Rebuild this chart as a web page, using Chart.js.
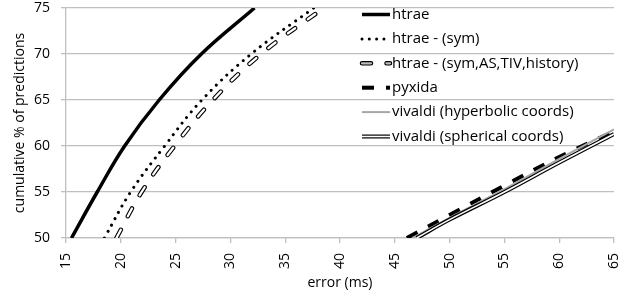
<!DOCTYPE html>
<html>
<head>
<meta charset="utf-8">
<script src="https://cdn.jsdelivr.net/npm/chart.js@4.4.1/dist/chart.umd.min.js"></script>
<style>
  html, body { margin: 0; padding: 0; background: #fff; }
  #wrap { width: 633px; height: 296px; }
</style>
</head>
<body>
<div id="wrap"><canvas id="myChart" width="633" height="296"></canvas></div>
<script>
// series names, in legend order
const seriesNames = [
    'htrae',
    'htrae - (sym)',
    'htrae - (sym,AS,TIV,history)',
    'pyxida',
    'vivaldi (hyperbolic coords)',
    'vivaldi (spherical coords)'
];

// error (ms) / cumulative %
const htraeErr = [15.5, 17.85, 20.35, 23.5, 27.35, 32.2];
const htraePct = [50, 55, 60, 65, 70, 75];
const symErr = [18.5, 20.9, 24.0, 27.4, 31.9, 37.6];
const symPct = [50, 55, 60, 65, 70, 75];
const historyErr = [19.6, 21.9, 24.9, 28.4, 32.8, 38.5];
const historyPct = [50, 55, 60, 65, 70, 75];
const pyxidaErr = [46.1, 50, 55, 60, 65];
const pyxidaPct = [50, 52.5, 55.7, 58.8, 61.6];
const hyperErr = [46.6, 50, 55, 60, 65];
const hyperPct = [50, 52.2, 55.3, 58.6, 61.8];
const sphereErr = [47.0, 50, 55, 60, 65];
const spherePct = [50, 52.0, 55.0, 58.2, 61.3];

const xTickValues = [15, 20, 25, 30, 35, 40, 45, 50, 55, 60, 65];
const yTickValues = [50, 55, 60, 65, 70, 75];

const FONT = 'Open Sans';

function toPoints(xs, ys) {
    return xs.map((x, i) => ({ x: x, y: ys[i] }));
}

function line(label, xs, ys, style) {
    return Object.assign({
        label: label,
        data: toPoints(xs, ys),
        borderColor: '#000',
        borderWidth: 2,
        pointRadius: 0,
        fill: false,
        tension: 0.4
    }, style);
}

const datasets = [
    line(seriesNames[0], htraeErr, htraePct, { borderWidth: 3.5 }),
    line(seriesNames[1], symErr, symPct, { borderWidth: 3, borderDash: [0.01, 7.3], borderCapStyle: 'round' }),
    line(seriesNames[2], historyErr, historyPct, { borderWidth: 4.5, borderDash: [9, 15.5], borderCapStyle: 'round' }),
    line('', historyErr, historyPct, { borderColor: '#fff', borderWidth: 2.3, borderDash: [9, 15.5], borderCapStyle: 'round', overlayOf: 2, innerLegend: '#bbb' }),
    line(seriesNames[3], pyxidaErr, pyxidaPct, { borderWidth: 4, borderDash: [12, 12] }),
    line(seriesNames[4], hyperErr, hyperPct, { borderColor: '#a6a6a6', borderWidth: 2 }),
    line(seriesNames[5], sphereErr, spherePct, { borderWidth: 4 }),
    line('', sphereErr, spherePct, { borderColor: '#fff', borderWidth: 1.6, overlayOf: 6 })
];
// draw in list order (later on top)
datasets.forEach((d, i) => { d.order = datasets.length - i; });

// legend drawn inside the plot area, no background
const insideLegend = {
    id: 'insideLegend',
    afterDraw(chart) {
        const ctx = chart.ctx;
        const x0 = 362, x1 = 390, textX = 392;
        let row = 0;
        ctx.save();
        chart.data.datasets.forEach((ds, i) => {
            if (ds.overlayOf !== undefined) return;
            const y = 14.5 + row * 24.4;
            const parts = [ds].concat(chart.data.datasets.filter(o => o.overlayOf === i));
            parts.forEach(p => {
                ctx.beginPath();
                ctx.strokeStyle = p.innerLegend || p.borderColor;
                ctx.lineWidth = p.borderWidth;
                ctx.setLineDash(p.borderDash || []);
                ctx.lineCap = p.borderCapStyle || 'butt';
                ctx.moveTo(x0, y);
                ctx.lineTo(x1, y);
                ctx.stroke();
            });
            ctx.setLineDash([]);
            ctx.fillStyle = '#000';
            ctx.font = '15px "' + FONT + '"';
            ctx.textBaseline = 'middle';
            ctx.textAlign = 'left';
            ctx.fillText(ds.label, textX, y);
            row++;
        });
        ctx.restore();
    }
};

const ctx = document.getElementById('myChart').getContext('2d');
const myChart = new Chart(ctx, {
    type: 'line',
    data: { datasets: datasets },
    options: {
        responsive: false,
        animation: false,
        devicePixelRatio: 1,
        layout: { padding: { left: 0, right: 19, top: 8, bottom: 0 } },
        scales: {
            x: {
                type: 'linear',
                min: 15,
                max: 65,
                afterBuildTicks: s => { s.ticks = xTickValues.map(v => ({ value: v })); },
                afterFit: s => { s.height = 58; s.paddingLeft = 0; s.paddingRight = 0; },
                ticks: {
                    minRotation: 90,
                    maxRotation: 90,
                    padding: 10,
                    color: '#000',
                    font: { family: FONT, size: 14 }
                },
                grid: { drawOnChartArea: false, drawTicks: true, tickLength: 5, color: '#bfbfbf', lineWidth: 1.3 },
                border: { display: true, color: '#bfbfbf', width: 1.3 },
                title: {
                    display: true,
                    text: 'error (ms)',
                    color: '#000',
                    font: { family: FONT, size: 14 },
                    padding: { top: 0, bottom: 5 }
                }
            },
            y: {
                min: 50,
                max: 75,
                afterBuildTicks: s => { s.ticks = yTickValues.map(v => ({ value: v })); },
                afterFit: s => { s.width = 66; s.paddingTop = 0; s.paddingBottom = 0; },
                ticks: {
                    padding: 11,
                    color: '#000',
                    font: { family: FONT, size: 14 }
                },
                grid: { drawTicks: true, tickLength: 5, color: '#bfbfbf', lineWidth: 1.3 },
                border: { display: true, color: '#bfbfbf', width: 1.3 },
                title: {
                    display: true,
                    text: 'cumulative % of predictions',
                    color: '#000',
                    font: { family: FONT, size: 14 },
                    padding: { top: 12, bottom: 0 }
                }
            }
        },
        plugins: {
            legend: { display: false },
            tooltip: { enabled: false }
        }
    },
    plugins: [insideLegend]
});
</script>
</body>
</html>
